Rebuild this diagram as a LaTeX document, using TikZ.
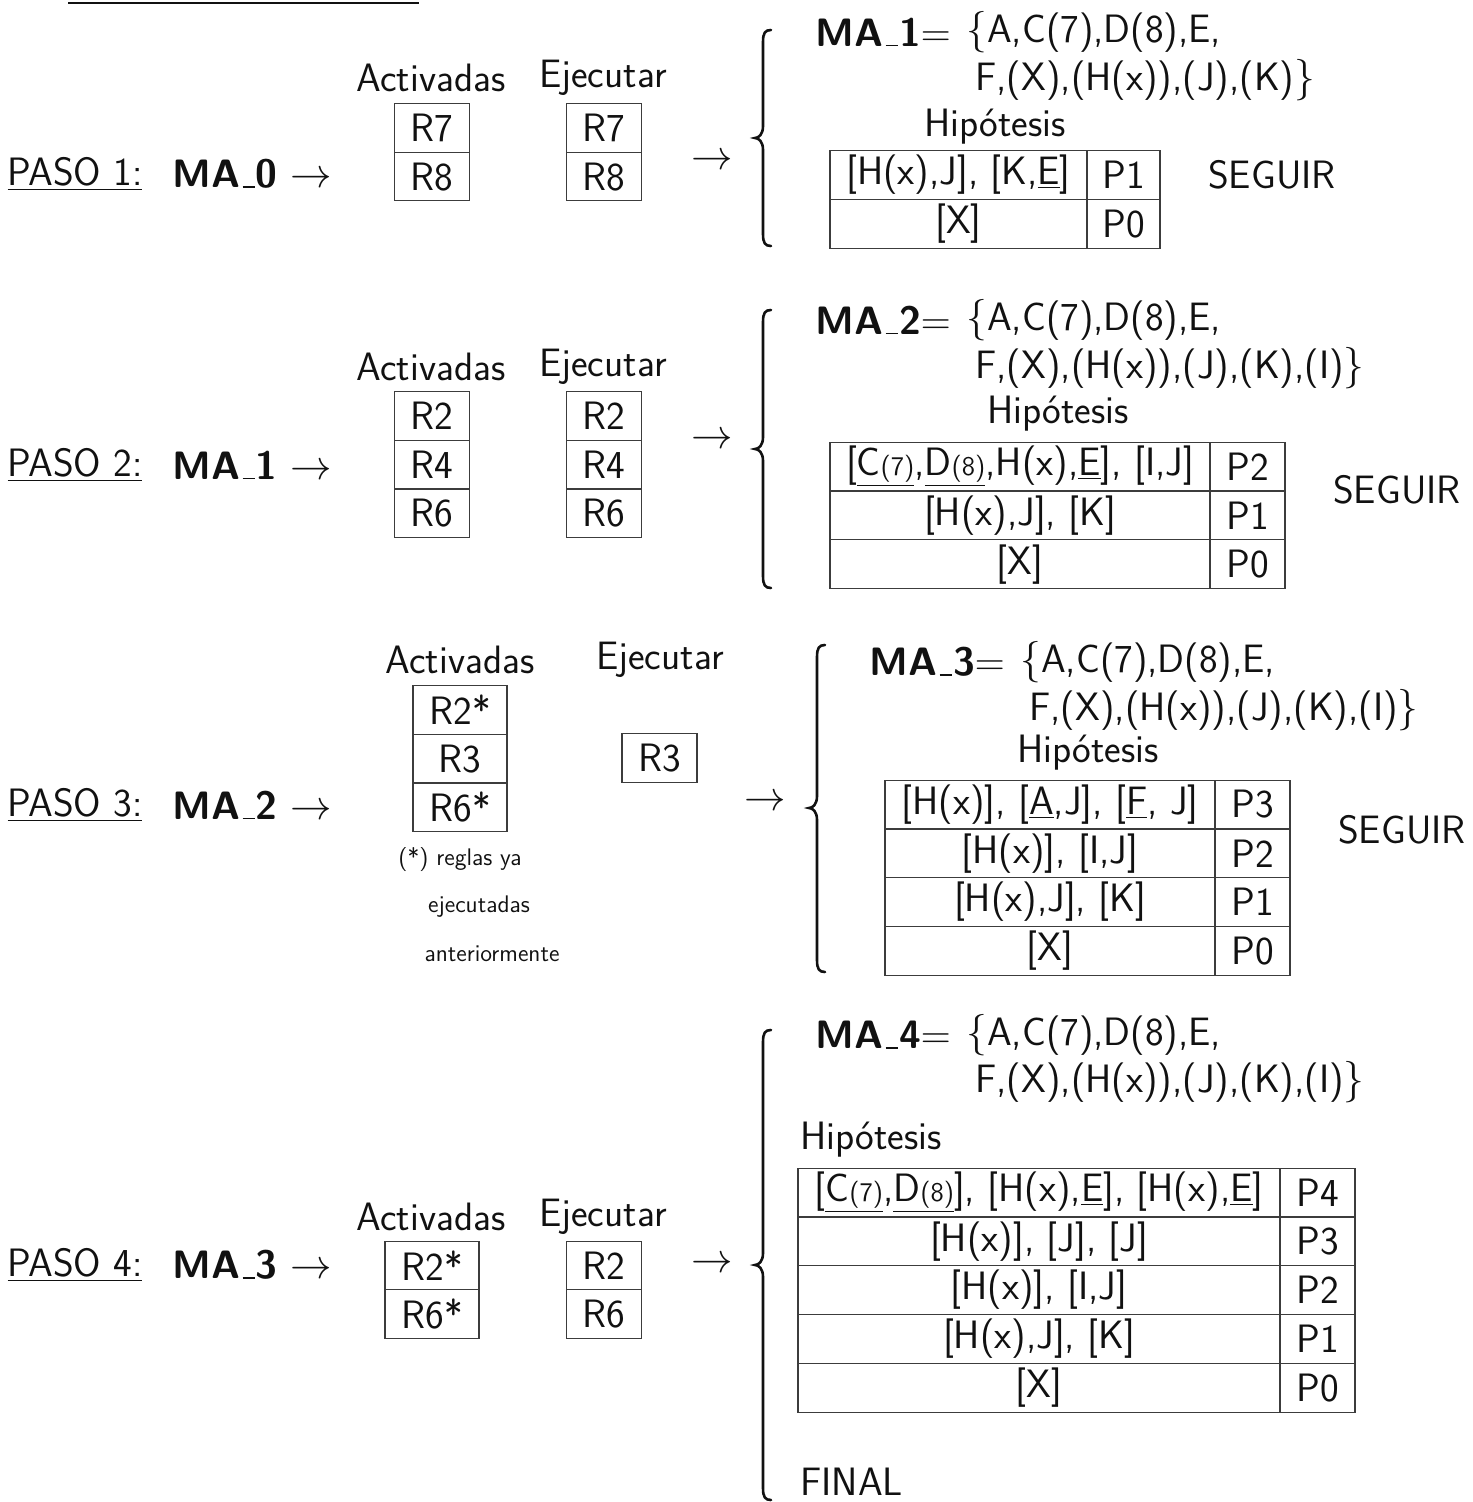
\documentclass[tikz,border=0pt]{standalone}
\usepackage{fontspec}
\usepackage{tikz}
\usetikzlibrary{positioning}
\definecolor{ink}{HTML}{111111}
\definecolor{rulegray}{HTML}{3C3C3C}
\newcommand{\sm}[1]{{\fontsize{13.5}{15}\selectfont #1}}
\newcommand{\usc}{\kern.06em\vbox{\hrule width .32em height .035em}\kern.02em}
% big left brace: x of tip, top, middle, bottom
\newcommand{\curly}[4]{%
  \draw[bracestroke] (#1+16,#2) .. controls (#1+10,#2) and (#1+8,#2+3) .. (#1+8,#2+12)
    -- (#1+8,#3-12) .. controls (#1+8,#3-4) and (#1+4,#3) .. (#1,#3)
    .. controls (#1+4,#3) and (#1+8,#3+4) .. (#1+8,#3+12)
    -- (#1+8,#4-12) .. controls (#1+8,#4-3) and (#1+10,#4) .. (#1+16,#4);}
\tikzset{
  txt/.style={inner sep=0pt,text=ink},
  rulebox/.style={draw=rulegray,line width=0.6pt,
                  minimum width=37.5pt,minimum height=24.3pt,
                  inner sep=0pt,outer sep=0pt,text=ink},
  hypcell/.style={draw=rulegray,line width=0.6pt,
                  minimum height=24.4pt,inner sep=0pt,outer sep=0pt,text=ink},
  pcell/.style={hypcell,minimum width=37.5pt},
  note/.style={inner sep=0pt,text=ink,font=\sffamily\fontsize{12}{14}\selectfont},
  bracestroke/.style={draw=ink,line width=1.3pt,line cap=round}
}

\begin{document}
\begin{tikzpicture}[x=0.5pt,y=-0.5pt,font=\sffamily\fontsize{19.8}{23}\selectfont]
  \useasboundingbox (0,0) rectangle (1472,1502);
  \draw[line width=1pt,ink] (68,3) -- (419,3);

  % PASO 1
  \node[txt] (paso1) at (75,174) {\underline{PASO 1:}};
  \node[txt] (ma0) at (252,174) {\textbf{MA\usc0} $\rightarrow$};
  \node[txt] (act1) at (431,78) {Activadas};
  \node[txt] (eje1) at (603,78) {Ejecutar};
  \node[rulebox] (a1r7) at (432,128) {R7};
  \node[rulebox,below=0pt of a1r7] (a1r8) {R8};
  \node[rulebox] (e1r7) at (604,128) {R7};
  \node[rulebox,below=0pt of e1r7] (e1r8) {R8};
  \node[txt] (to1) at (712,162) {$\rightarrow$};
  \curly{755}{30}{138}{246}
  \node[txt,anchor=west] (ma1a) at (815,32) {\textbf{MA\usc1}$=$};
  \node[txt,anchor=west] (ma1b) at (966,32) {$\{$A,C(7),D(8),E,};
  \node[txt,anchor=west] (ma1c) at (975,80) {F,(X),(H(x)),(J),(K)$\}$};
  \node[txt] (hip1) at (995,127) {Hipótesis};
  \node[hypcell,minimum width=128.5pt] (h1a) at (958.5,175) {[H(x),J], [K,\underline{E}]};
  \node[pcell,minimum width=36.5pt,right=0pt of h1a] (p1a) {P1};
  \node[hypcell,minimum width=128.5pt,below=0pt of h1a] (h1b) {[X]};
  \node[pcell,minimum width=36.5pt,right=0pt of h1b] (p1b) {P0};
  \node[txt] (seg1) at (1272,175) {SEGUIR};

  % PASO 2
  \node[txt] (paso2) at (75,465) {\underline{PASO 2:}};
  \node[txt] (ma1) at (252,465) {\textbf{MA\usc1} $\rightarrow$};
  \node[txt] (act2) at (431,367) {Activadas};
  \node[txt] (eje2) at (603,367) {Ejecutar};
  \node[rulebox] (a2r2) at (432,416) {R2};
  \node[rulebox,below=0pt of a2r2] (a2r4) {R4};
  \node[rulebox,below=0pt of a2r4] (a2r6) {R6};
  \node[rulebox] (e2r2) at (604,416) {R2};
  \node[rulebox,below=0pt of e2r2] (e2r4) {R4};
  \node[rulebox,below=0pt of e2r4] (e2r6) {R6};
  \node[txt] (to2) at (712,441) {$\rightarrow$};
  \curly{755}{310}{449}{588}
  \node[txt,anchor=west] (ma2a) at (815,320) {\textbf{MA\usc2}$=$};
  \node[txt,anchor=west] (ma2b) at (966,320) {$\{$A,C(7),D(8),E,};
  \node[txt,anchor=west] (ma2c) at (975,368) {F,(X),(H(x)),(J),(K),(I)$\}$};
  \node[txt] (hip2) at (1058,414) {Hipótesis};
  \node[hypcell,minimum width=190pt] (h2a) at (1020,466.5)
    {[\underline{C\sm{(7)}},\underline{D\sm{(8)}},H(x),\underline{E}], [I,J]};
  \node[pcell,right=0pt of h2a] (p2a) {P2};
  \node[hypcell,minimum width=190pt,below=0pt of h2a] (h2b) {[H(x),J], [K]};
  \node[pcell,right=0pt of h2b] (p2b) {P1};
  \node[hypcell,minimum width=190pt,below=0pt of h2b] (h2c) {[X]};
  \node[pcell,right=0pt of h2c] (p2c) {P0};
  \node[txt] (seg2) at (1397,490) {SEGUIR};

  % PASO 3
  \node[txt] (paso3) at (75,805) {\underline{PASO 3:}};
  \node[txt] (ma2) at (252,805) {\textbf{MA\usc2} $\rightarrow$};
  \node[txt] (act3) at (460,660) {Activadas};
  \node[txt] (eje3) at (660,660) {Ejecutar};
  \node[rulebox,minimum width=47pt] (a3r2) at (460,710) {R2*};
  \node[rulebox,minimum width=47pt,below=0pt of a3r2] (a3r3) {R3};
  \node[rulebox,minimum width=47pt,below=0pt of a3r3] (a3r6) {R6*};
  \node[rulebox] (e3r3) at (659.5,758) {R3};
  \node[note] (nota1) at (460,860) {(*) reglas ya};
  \node[note] (nota2) at (479,907) {ejecutadas};
  \node[note] (nota3) at (492,954) {anteriormente};
  \node[txt] (to3) at (765,803) {$\rightarrow$};
  \curly{809}{645}{808}{972}
  \node[txt,anchor=west] (ma3a) at (869,662) {\textbf{MA\usc3}$=$};
  \node[txt,anchor=west] (ma3b) at (1020,662) {$\{$A,C(7),D(8),E,};
  \node[txt,anchor=west] (ma3c) at (1029,710) {F,(X),(H(x)),(J),(K),(I)$\}$};
  \node[txt] (hip3) at (1088,753) {Hipótesis};
  \node[hypcell,minimum width=165pt] (h3a) at (1050,804.5)
    {[H(x)], [\underline{A},J], [\underline{F}, J]};
  \node[pcell,right=0pt of h3a] (p3a) {P3};
  \node[hypcell,minimum width=165pt,below=0pt of h3a] (h3b) {[H(x)], [I,J]};
  \node[pcell,right=0pt of h3b] (p3b) {P2};
  \node[hypcell,minimum width=165pt,below=0pt of h3b] (h3c) {[H(x),J], [K]};
  \node[pcell,right=0pt of h3c] (p3c) {P1};
  \node[hypcell,minimum width=165pt,below=0pt of h3c] (h3d) {[X]};
  \node[pcell,right=0pt of h3d] (p3d) {P0};
  \node[txt] (seg3) at (1402,830) {SEGUIR};

  % PASO 4
  \node[txt] (paso4) at (75,1265) {\underline{PASO 4:}};
  \node[txt] (ma3) at (252,1265) {\textbf{MA\usc3} $\rightarrow$};
  \node[txt] (act4) at (431,1217) {Activadas};
  \node[txt] (eje4) at (603,1217) {Ejecutar};
  \node[rulebox,minimum width=47pt] (a4r2) at (432,1265.5) {R2*};
  \node[rulebox,minimum width=47pt,below=0pt of a4r2] (a4r6) {R6*};
  \node[rulebox] (e4r2) at (604,1265.5) {R2};
  \node[rulebox,below=0pt of e4r2] (e4r6) {R6};
  \node[txt] (to4) at (712,1265) {$\rightarrow$};
  \curly{755}{1030}{1265}{1500}
  \node[txt,anchor=west] (ma4a) at (815,1035) {\textbf{MA\usc4}$=$};
  \node[txt,anchor=west] (ma4b) at (966,1035) {$\{$A,C(7),D(8),E,};
  \node[txt,anchor=west] (ma4c) at (975,1082) {F,(X),(H(x)),(J),(K),(I)$\}$};
  \node[txt,anchor=west] (hip4) at (800,1140) {Hipótesis};
  \node[hypcell,minimum width=241pt] (h4a) at (1039,1192.5)
    {[\underline{C\sm{(7)}},\underline{D\sm{(8)}}], [H(x),\underline{E}], [H(x),\underline{E}]};
  \node[pcell,right=0pt of h4a] (p4a) {P4};
  \node[hypcell,minimum width=241pt,below=0pt of h4a] (h4b) {[H(x)], [J], [J]};
  \node[pcell,right=0pt of h4b] (p4b) {P3};
  \node[hypcell,minimum width=241pt,below=0pt of h4b] (h4c) {[H(x)], [I,J]};
  \node[pcell,right=0pt of h4c] (p4c) {P2};
  \node[hypcell,minimum width=241pt,below=0pt of h4c] (h4d) {[H(x),J], [K]};
  \node[pcell,right=0pt of h4d] (p4d) {P1};
  \node[hypcell,minimum width=241pt,below=0pt of h4d] (h4e) {[X]};
  \node[pcell,right=0pt of h4e] (p4e) {P0};
  \node[txt,anchor=west] (fin) at (800,1482) {FINAL};
\end{tikzpicture}
\end{document}
